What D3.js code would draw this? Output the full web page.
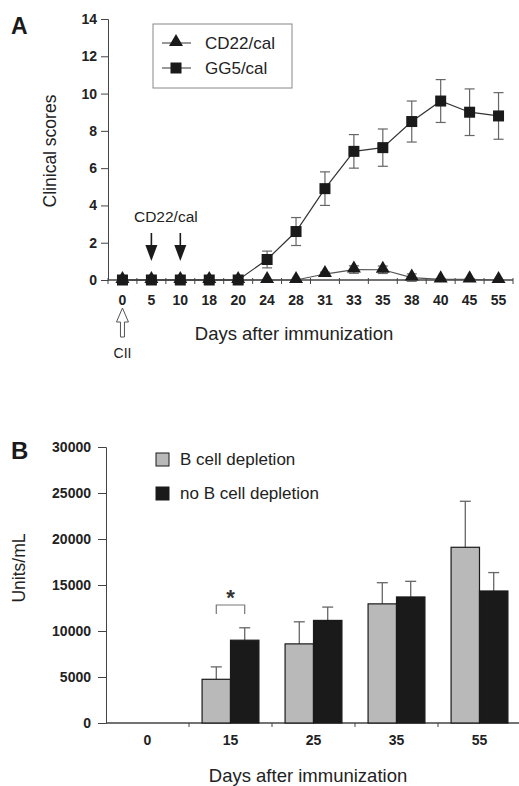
<!DOCTYPE html>
<html>
<head>
<meta charset="utf-8">
<script src="https://cdn.jsdelivr.net/npm/d3@7"></script>
<style>
  body { margin: 0; background: #fff; }
  svg { display: block; font-family: "Liberation Sans", Arial, sans-serif; }
</style>
</head>
<body>
<svg id="chart" width="519" height="786"></svg>
<script>
// パネルA: 臨床スコア
var daysA = ["0", "5", "10", "18", "20", "24", "28", "31", "33", "35", "38", "40", "45", "55"];
var gg5 = [0, 0, 0, 0, 0, 1.1, 2.6, 4.9, 6.9, 7.1, 8.5, 9.6, 9.0, 8.8];
var gg5Err = [0, 0, 0, 0, 0, 0.45, 0.75, 0.9, 0.9, 1.0, 1.1, 1.15, 1.25, 1.25];
var cd22 = [0, 0, 0, 0, 0, 0, 0, 0.32, 0.56, 0.55, 0.13, 0.03, 0.03, 0];
var cd22Err = [0, 0, 0, 0, 0, 0, 0, 0.1, 0.2, 0.2, 0.2, 0.05, 0.05, 0];
var ticksA = [0, 2, 4, 6, 8, 10, 12, 14];

// パネルB: Units/mL
var daysB = ["0", "15", "25", "35", "55"];
var seriesB = ["B cell depletion", "no B cell depletion"];
var depl = [0, 4750, 8600, 12950, 19100];
var deplErr = [0, 1350, 2400, 2300, 5000];
var noDepl = [0, 9000, 11150, 13700, 14350];
var noDeplErr = [0, 1350, 1450, 1700, 2000];
var ticksB = [0, 5000, 10000, 15000, 20000, 25000, 30000];

var svg = d3.select("#chart");
var ink = "#1a1a1a";
var font = "'Liberation Sans', Arial, sans-serif";

function styleAxis(g) {
  g.attr("font-family", font).attr("font-size", 14).attr("font-weight", "bold");
  g.selectAll("line, path").attr("stroke", "#444");
  g.selectAll("text").attr("fill", "#222");
}

// ---------- A ----------
var xA = d3.scalePoint().domain(daysA).range([108, 513]).padding(0.5);
var bandA = d3.scaleBand().domain(daysA).range([108, 513]);
var yA = d3.scaleLinear().domain([0, 14]).range([280, 19]);

var gA = svg.append("g");

gA.append("g")
  .attr("transform", "translate(108,0)")
  .call(d3.axisLeft(yA).tickValues(ticksA).tickSize(7).tickPadding(4))
  .call(styleAxis);

// x軸
gA.append("line").attr("x1", 108).attr("x2", 513).attr("y1", yA(0)).attr("y2", yA(0))
  .attr("stroke", "#444").attr("stroke-width", 1.3);
gA.selectAll(".xtickA").data(daysA.concat(["end"])).enter().append("line")
  .attr("x1", function(d) { return d === "end" ? 513 : bandA(d); })
  .attr("x2", function(d) { return d === "end" ? 513 : bandA(d); })
  .attr("y1", yA(0) - 2).attr("y2", yA(0) + 4).attr("stroke", "#444");
gA.selectAll(".xlabA").data(daysA).enter().append("text")
  .attr("x", function(d) { return xA(d); }).attr("y", 305)
  .attr("text-anchor", "middle").attr("font-size", 14).attr("font-weight", "bold").attr("fill", "#222")
  .text(function(d) { return d; });

var line = d3.line().x(function(d, i) { return xA(daysA[i]); }).y(function(d) { return yA(d); });

function errBars(g, vals, errs) {
  vals.forEach(function(v, i) {
    if (!errs[i]) return;
    var x = xA(daysA[i]);
    g.append("line").attr("x1", x).attr("x2", x).attr("y1", yA(v - errs[i])).attr("y2", yA(v + errs[i]))
      .attr("stroke", "#666").attr("stroke-width", 1.2);
    [v - errs[i], v + errs[i]].forEach(function(e) {
      g.append("line").attr("x1", x - 5).attr("x2", x + 5).attr("y1", yA(e)).attr("y2", yA(e))
        .attr("stroke", "#666").attr("stroke-width", 1.2);
    });
  });
}

errBars(gA, cd22, cd22Err);
errBars(gA, gg5, gg5Err);

gA.append("path").datum(cd22).attr("d", line).attr("fill", "none").attr("stroke", "#555").attr("stroke-width", 1.2);
gA.append("path").datum(gg5).attr("d", line).attr("fill", "none").attr("stroke", "#333").attr("stroke-width", 1.2);

var tri = d3.symbol().type(d3.symbolTriangle).size(85);
gA.selectAll(".tri").data(cd22).enter().append("path")
  .attr("d", tri)
  .attr("transform", function(d, i) { return "translate(" + xA(daysA[i]) + "," + (yA(d) - 1) + ")"; })
  .attr("fill", ink);
gA.selectAll(".sq").data(gg5).enter().append("rect")
  .attr("x", function(d, i) { return xA(daysA[i]) - 5.5; })
  .attr("y", function(d) { return yA(d) - 5.5; })
  .attr("width", 11).attr("height", 11).attr("fill", ink);

// 凡例 A
gA.append("rect").attr("x", 153).attr("y", 24).attr("width", 139).attr("height", 64)
  .attr("fill", "#fff").attr("stroke", "#888").attr("stroke-width", 1);
[["CD22/cal", 43, "tri"], ["GG5/cal", 68, "sq"]].forEach(function(e) {
  gA.append("line").attr("x1", 162).attr("x2", 191).attr("y1", e[1]).attr("y2", e[1]).attr("stroke", "#333");
  if (e[2] === "tri") {
    gA.append("path").attr("d", tri).attr("transform", "translate(176," + (e[1] - 1) + ")").attr("fill", ink);
  } else {
    gA.append("rect").attr("x", 170.5).attr("y", e[1] - 5.5).attr("width", 11).attr("height", 11).attr("fill", ink);
  }
  gA.append("text").attr("x", 205).attr("y", e[1] + 6).attr("font-size", 17).attr("fill", "#222").text(e[0]);
});

// 矢印
gA.append("text").attr("x", (xA("5") + xA("10")) / 2).attr("y", 222).attr("text-anchor", "middle")
  .attr("font-size", 15.5).attr("fill", "#222").text("CD22/cal");
["5", "10"].forEach(function(d) {
  var x = xA(d);
  gA.append("line").attr("x1", x).attr("x2", x).attr("y1", 233).attr("y2", 247).attr("stroke", ink).attr("stroke-width", 1.6);
  gA.append("path").attr("d", "M" + (x - 6) + ",245L" + (x + 6) + ",245L" + x + ",261Z").attr("fill", ink);
});
var x0A = xA("0");
gA.append("path")
  .attr("d", "M" + x0A + ",308L" + (x0A + 6) + ",322L" + (x0A + 2) + ",322L" + (x0A + 2) + ",337L" + (x0A - 2) + ",337L" + (x0A - 2) + ",322L" + (x0A - 6) + ",322Z")
  .attr("fill", "#fff").attr("stroke", "#555").attr("stroke-width", 1);
gA.append("text").attr("x", x0A).attr("y", 358).attr("text-anchor", "middle").attr("font-size", 14).attr("fill", "#222").text("CII");

gA.append("text").attr("x", 294).attr("y", 340).attr("text-anchor", "middle").attr("font-size", 18.5).attr("fill", "#222")
  .text("Days after immunization");
gA.append("text").attr("transform", "translate(56,151) rotate(-90)").attr("text-anchor", "middle")
  .attr("font-size", 17.5).attr("fill", "#222").text("Clinical scores");
gA.append("text").attr("x", 11).attr("y", 34).attr("font-size", 23).attr("font-weight", "bold").attr("fill", ink).text("A");

// ---------- B ----------
var x0 = d3.scaleBand().domain(daysB).range([106, 521]);
var x1 = d3.scaleBand().domain(seriesB).range([0, x0.bandwidth()]).paddingOuter(0.46);
var yB = d3.scaleLinear().domain([0, 30000]).range([723, 447]);

var gB = svg.append("g");
gB.append("g")
  .attr("transform", "translate(106,0)")
  .call(d3.axisLeft(yB).tickValues(ticksB).tickFormat(d3.format("d")).tickSize(8).tickPadding(7))
  .call(styleAxis);

gB.append("line").attr("x1", 106).attr("x2", 519).attr("y1", yB(0)).attr("y2", yB(0))
  .attr("stroke", "#444").attr("stroke-width", 1.3);
gB.selectAll(".xtickB").data(daysB.slice(1)).enter().append("line")
  .attr("x1", function(d) { return x0(d); }).attr("x2", function(d) { return x0(d); })
  .attr("y1", yB(0)).attr("y2", yB(0) + 4).attr("stroke", "#444");
gB.selectAll(".xlabB").data(daysB).enter().append("text")
  .attr("x", function(d) { return x0(d) + x0.bandwidth() / 2; }).attr("y", 745)
  .attr("text-anchor", "middle").attr("font-size", 14).attr("font-weight", "bold").attr("fill", "#222")
  .text(function(d) { return d; });

var fills = ["#b9b9b9", ink];
[[depl, deplErr], [noDepl, noDeplErr]].forEach(function(s, k) {
  daysB.forEach(function(d, i) {
    var v = s[0][i];
    if (!v) return;
    var x = x0(d) + x1(seriesB[k]);
    var cx = x + x1.bandwidth() / 2;
    var top = yB(v + s[1][i]);
    gB.append("line").attr("x1", cx).attr("x2", cx).attr("y1", yB(v)).attr("y2", top)
      .attr("stroke", "#666").attr("stroke-width", 1.3);
    gB.append("line").attr("x1", cx - 5.5).attr("x2", cx + 5.5).attr("y1", top).attr("y2", top)
      .attr("stroke", "#666").attr("stroke-width", 1.3);
    gB.append("rect").attr("x", x).attr("y", yB(v)).attr("width", x1.bandwidth()).attr("height", yB(0) - yB(v))
      .attr("fill", fills[k]).attr("stroke", ink).attr("stroke-width", 1.2);
  });
});

// 有意差
var bx1 = x0("15") + x1(seriesB[0]) + x1.bandwidth() / 2;
var bx2 = x0("15") + x1(seriesB[1]) + x1.bandwidth() / 2;
gB.append("path").attr("d", "M" + bx1 + ",614V605H" + bx2 + "V614").attr("fill", "none").attr("stroke", "#777").attr("stroke-width", 1.2);
gB.append("text").attr("x", (bx1 + bx2) / 2).attr("y", 605).attr("text-anchor", "middle").attr("font-size", 22)
  .attr("font-weight", "bold").attr("fill", "#333").text("*");

// 凡例 B
seriesB.forEach(function(s, k) {
  var y = 453 + k * 34;
  gB.append("rect").attr("x", 156).attr("y", y).attr("width", 13).attr("height", 13)
    .attr("fill", fills[k]).attr("stroke", ink).attr("stroke-width", 1);
  gB.append("text").attr("x", 180).attr("y", y + 12).attr("font-size", 17).attr("fill", "#222").text(s);
});

gB.append("text").attr("x", 308).attr("y", 782).attr("text-anchor", "middle").attr("font-size", 18.5).attr("fill", "#222")
  .text("Days after immunization");
gB.append("text").attr("transform", "translate(25,568) rotate(-90)").attr("text-anchor", "middle")
  .attr("font-size", 17.5).attr("fill", "#222").text("Units/mL");
gB.append("text").attr("x", 11).attr("y", 459).attr("font-size", 24).attr("font-weight", "bold").attr("fill", ink).text("B");
</script>
</body>
</html>
